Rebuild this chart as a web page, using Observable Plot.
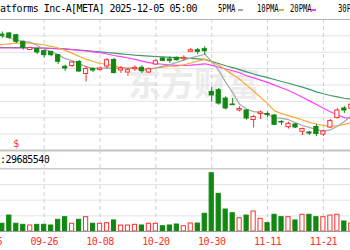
<!DOCTYPE html>
<html><head><meta charset="utf-8">
<script src="https://cdn.jsdelivr.net/npm/d3@7"></script>
<script src="https://cdn.jsdelivr.net/npm/@observablehq/plot@0.6"></script>
<style>
html,body{margin:0;padding:0;background:#fff;}
#wrap{position:relative;width:350px;height:250px;overflow:hidden;background:#fff;font-family:"DejaVu Sans Mono",monospace;}
#wrap svg{position:absolute;left:0;background:transparent;}
.t{position:absolute;white-space:nowrap;font-size:10px;letter-spacing:-0.55px;color:#000;line-height:10px;}
.lg{position:absolute;white-space:nowrap;font-size:10px;letter-spacing:0;color:#000;line-height:10px;transform:scaleX(0.72);transform-origin:0 0;}
.wm{position:absolute;white-space:nowrap;font-family:"Noto Sans CJK SC",sans-serif;font-weight:700;font-size:33px;color:#ececec;line-height:36px;}
.sw{position:absolute;height:2px;width:5px;}
</style></head><body>
<div id="wrap">
  <div class="wm" style="left:128px;top:64px">东方财富</div>
  <div class="t" style="left:0;top:4px">atforms Inc-A[META] 2025-12-05 05:00</div>
  <div class="lg" style="left:218px;top:4px">5PMA</div><div class="sw" style="left:238px;top:9px;background:#a8a8a8"></div>
  <div class="lg" style="left:257px;top:4px">10PMA</div><div class="sw" style="left:279px;top:9px;background:#f6a935"></div>
  <div class="lg" style="left:290px;top:4px">20PMA</div><div class="sw" style="left:311px;top:9px;background:#ff3cff"></div>
  <div class="lg" style="left:338px;top:4px">30PMA</div>
  <div class="t" style="left:0;top:155px">:29685540</div>
</div>
<script>
const dates = ["09-16","09-17","09-18","09-19","09-22","09-23","09-24","09-25","09-26","09-29","09-30",
"10-01","10-02","10-03","10-06","10-07","10-08","10-09","10-10","10-13","10-14","10-15","10-16","10-17",
"10-20","10-21","10-22","10-23","10-24","10-27","10-28","10-29","10-30","10-31",
"11-03","11-04","11-05","11-06","11-07","11-10","11-11","11-12","11-13","11-14","11-17","11-18","11-19",
"11-20","11-21","11-24","11-25","11-26","11-28"];
const opens = [777,775,780.6,782.9,779.6,766.8,750.9,752.5,748.6,747.4,740.9,
718.4,719.9,727.7,704.4,714.1,712.2,718.9,731.5,711.2,707.3,713.7,716.4,707.3,
722.8,734.4,732.5,735.8,733.1,747.4,750.5,752.5,669.5,673.0,
656.9,645.3,633.7,633.7,615.3,626.9,626.9,624.0,611.4,601.3,606.6,592.5,591.1,
601.7,587.2,600.7,619.2,637.6,637.0];
const highs = [782,780,785.8,784.8,781.0,768.0,755.8,753.8,750.5,748.0,742.2,
721.5,728.6,730.6,718.9,716.0,718.0,734.4,734.4,718.9,715.1,720.0,720.4,716.0,
733.1,735.8,737.7,737.3,739.7,753.8,753.8,757.3,678.8,676.3,
660.2,656.9,641.4,635.6,624.0,632.7,630.8,626.0,614.3,611.0,608.5,599.5,593.0,
606.6,596.0,616.2,637.6,641.4,648.0];
const lows = [770,768,773.2,771.9,763.5,750.6,749.9,742.2,735.8,737.7,722.8,
709.9,717.0,707.3,688.9,707.3,710.2,714.1,704.4,705.4,699.6,709.3,705.4,705.4,
721.5,728.1,724.8,729.6,729.2,746.1,742.2,740.9,649.8,644.0,
634.7,643.4,630.8,614.9,599.8,616.2,620.1,604.6,604.6,598.0,598.8,585.2,585.2,
583.0,583.3,598.8,617.2,628.0,636.0];
const closes = [777.0,775.7,778.6,774.6,766.8,755.2,754.8,746.1,740.9,740.9,728.1,
715.1,726.7,709.3,714.1,711.2,715.1,731.2,706.4,715.1,711.8,716.4,709.8,713.7,
729.2,730.0,730.0,731.2,735.8,750.5,747.4,748.6,662.8,647.2,
637.6,644.0,636.6,618.2,621.1,629.8,624.9,606.0,610.4,607.9,600.7,597.8,589.1,
588.1,593.0,613.3,633.7,633.7,645.0];
// volume, millions of shares
const volumes = [26,28,26.9,36.9,26.9,25.6,24.8,25.6,25.6,24.8,31.7,
34.9,26.9,31.7,34.9,26.9,26.9,27.6,30.9,24.8,24.8,25.6,24.8,26.9,
26.9,23.9,24.8,26.0,23.9,27.2,27.2,39.0,88.3,63.3,
44.2,39.7,33.7,36.9,41.8,32.9,27.6,37.8,34.9,34.9,30.9,37.8,37.8,
34.9,34.9,36.9,37.8,29.7,27.2];
const ma5 = [779,778.5,778.1,774.2,770.3,767.4,766.0,759.5,752.8,747.6,742.2,
734.2,730.3,724.0,718.7,715.3,715.3,716.2,715.6,715.8,715.9,716.2,711.9,713.4,
716.2,719.8,722.5,726.8,731.2,735.5,739.0,742.7,729.0,711.3,
688.7,668.0,645.6,636.7,631.5,629.9,625.9,620.1,618.6,615.9,610.1,604.7,601.0,
596.5,593.6,596.1,603.4,612.4,623.5];
const ma10 = [761,761.2,761.6,762.9,764.1,764.5,764.1,762.9,760.6,758.1,754.8,
750.1,744.9,738.4,733.1,728.7,724.8,723.3,719.8,717.2,715.6,715.7,714.0,714.5,
716.0,717.9,719.4,719.4,722.3,725.8,729.4,732.6,727.9,721.3,
712.1,703.5,694.2,682.9,671.4,659.3,647.0,632.9,627.6,623.7,620.0,615.3,610.6,
607.6,604.7,603.1,604.1,606.7,610.0];
const ma20 = [755.0,754.9,754.8,754.8,754.8,754.8,754.8,754.8,754.2,753.8,753.3,
752.5,751.5,750.3,749.0,747.4,745.7,743.2,740.3,738.0,735.4,732.9,729.5,726.4,
724.6,723.3,722.1,721.3,721.1,721.5,722.5,724.2,721.0,717.9,
714.1,710.7,706.8,701.1,696.9,692.6,688.2,682.8,677.8,672.5,666.1,659.4,652.4,
645.2,638.1,631.2,625.5,619.8,618.8];
const ma30 = [755.9,755.9,755.8,755.8,755.6,755.4,755.2,755.0,754.6,754.2,753.6,
752.9,751.9,750.7,749.6,748.4,747.2,746.1,744.7,743.4,742.2,741.0,740.1,739.1,
738.3,737.6,736.8,736.2,735.6,734.8,733.9,732.8,729.0,724.7,
720.4,716.7,712.8,708.5,704.5,700.8,697.3,693.7,689.9,686.5,682.7,678.9,674.7,
669.9,666.1,662.8,660.2,657.4,655.2];
const tickLabels = ["09-16","09-26","10-08","10-20","10-30","11-11","11-21"];
const dividendDates = ["09-22"];
const volumeLabel = ":29685540";

const RED = "#ff2f2f", GREEN = "#118811";
const rows = dates.map((d, i) => ({i, d, o: opens[i], h: highs[i], l: lows[i], c: closes[i], v: volumes[i], up: closes[i] >= opens[i]}));
const ups = rows.filter(r => r.up), downs = rows.filter(r => !r.up);
const tickIdx = tickLabels.map(t => dates.indexOf(t));
const xcfg = {domain: [1.739, 51.882], axis: null};
const hw = 0.3;

const pLo = 556.2, pHi = 810;
const pGrid = d3.range(1, 8).map(k => pLo + k * (pHi - pLo) / 8);
const maRows = (arr) => arr.map((v, i) => ({i, v}));

const priceChart = Plot.plot({
  width: 350, height: 152, marginTop: 19, marginBottom: 2, marginLeft: 0, marginRight: 0,
  x: xcfg, y: {domain: [pLo, pHi], axis: null},
  style: {background: "transparent", fontFamily: "DejaVu Sans Mono, monospace"},
  marks: [
    Plot.ruleY(pGrid, {stroke: "#e3e3e3"}),
    Plot.ruleX(tickIdx, {stroke: "#cfcfcf", strokeDasharray: "4,3"}),
    Plot.ruleY([pHi], {stroke: "#b4b4b4"}),
    Plot.ruleY([pLo], {stroke: "#c4c4c4", strokeWidth: 2}),
    Plot.line(maRows(ma30), {x: "i", y: "v", stroke: "#3f9a63", strokeWidth: 1.2}),
    Plot.line(maRows(ma20), {x: "i", y: "v", stroke: "#ff3cff", strokeWidth: 1.2}),
    Plot.line(maRows(ma10), {x: "i", y: "v", stroke: "#f6a935", strokeWidth: 1.2}),
    Plot.line(maRows(ma5), {x: "i", y: "v", stroke: "#a8a8a8", strokeWidth: 1.2}),
    Plot.ruleX(downs, {x: "i", y1: "l", y2: "h", stroke: GREEN}),
    Plot.ruleX(ups, {x: "i", y1: "l", y2: "h", stroke: RED}),
    Plot.rect(downs, {x1: r => r.i - hw, x2: r => r.i + hw, y1: "o", y2: "c", fill: GREEN, stroke: GREEN}),
    Plot.rect(ups, {x1: r => r.i - hw, x2: r => r.i + hw, y1: "o", y2: "c", fill: "white", stroke: RED}),
    Plot.text(dividendDates, {x: d => dates.indexOf(d), text: () => "$", frameAnchor: "bottom", dy: -7, lineAnchor: "middle", fill: RED, fontSize: 10})
  ]
});
priceChart.style.top = "0px";

const vLo = 17.5, vStep = 19.05, vHi = vLo + vStep * 81 / 15.675;
const vGrid = d3.range(1, 4).map(k => vLo + k * vStep);
const volChart = Plot.plot({
  width: 350, height: 100, marginTop: 0, marginBottom: 19, marginLeft: 0, marginRight: 0,
  x: xcfg, y: {domain: [vLo, vHi], axis: null},
  style: {background: "transparent", fontFamily: "DejaVu Sans Mono, monospace", letterSpacing: "-0.55px"},
  marks: [
    Plot.ruleY(vGrid, {stroke: "#e3e3e3"}),
    Plot.ruleY([vLo + 4 * vStep], {stroke: "#cbcbcb", strokeWidth: 1.5}),
    Plot.ruleX(tickIdx, {stroke: "#cfcfcf", strokeDasharray: "4,3"}),
    Plot.rect(downs, {x1: r => r.i - hw, x2: r => r.i + hw, y1: vLo, y2: "v", fill: GREEN, stroke: GREEN}),
    Plot.rect(ups, {x1: r => r.i - hw, x2: r => r.i + hw, y1: vLo, y2: "v", fill: "white", stroke: RED}),
    Plot.ruleY([vLo], {stroke: "#9a9a9a"}),
    Plot.text(tickLabels, {x: d => dates.indexOf(d), text: d => d, frameAnchor: "bottom", dy: 10, lineAnchor: "middle", fill: RED, fontSize: 10})
  ]
});
volChart.style.top = "150px";

const wrap = document.getElementById("wrap");
wrap.appendChild(priceChart);
wrap.appendChild(volChart);
</script>
</body></html>
